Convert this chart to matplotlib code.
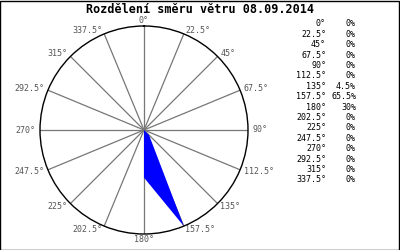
import numpy as np
import matplotlib.pyplot as plt

angles = [0, 22.5, 45, 67.5, 90, 112.5, 135, 157.5, 180,
          202.5, 225, 247.5, 270, 292.5, 315, 337.5]
angle_labels = ['0°', '22.5°', '45°', '67.5°', '90°', '112.5°', '135°', '157.5°', '180°',
                '202.5°', '225°', '247.5°', '270°', '292.5°', '315°', '337.5°']
percent = [0, 0, 0, 0, 0, 0, 4.5, 65.5, 30, 0, 0, 0, 0, 0, 0, 0]
percent_labels = ['0%', '0%', '0%', '0%', '0%', '0%', '4.5%', '65.5%', '30%',
                  '0%', '0%', '0%', '0%', '0%', '0%', '0%']
title = 'Rozdělení směru větru 08.09.2014'

mono = ['DejaVu Sans Mono']

fig = plt.figure(figsize=(4, 2.5), dpi=100)
fig.patch.set_facecolor('white')
# outer border
fig.add_artist(plt.Rectangle((0.001, 0.002), 0.997, 0.994, transform=fig.transFigure,
                             fill=False, edgecolor='black', linewidth=1))

fig.text(0.5, 0.962, title, ha='center', va='center', fontsize=8.5,
         fontweight='bold', family=mono)

ax = fig.add_axes([0.1, 0.064, 0.52, 0.832], projection='polar')
ax.set_theta_zero_location('N')
ax.set_theta_direction(-1)
rmax = max(percent)
ax.set_ylim(0, rmax)
ax.grid(False)
ax.set_xticks([])
ax.set_yticks([])
ax.spines['polar'].set_linewidth(1)
ax.spines['polar'].set_color('black')

theta = np.deg2rad(angles)
for t in theta:
    ax.plot([t, t], [0, rmax], color='#777777', linewidth=0.9, zorder=1)

tt = np.append(theta, theta[0])
rr = np.append(percent, percent[0])
ax.fill(tt, rr, color='#0000ff', linewidth=0, zorder=2)

for a, lab in zip(angles, angle_labels):
    s = np.sin(np.deg2rad(a))
    off = 1.04
    if abs(s) < 0.01:
        ha = 'center'
        off = 1.055
    elif s > 0:
        ha = 'left'
    else:
        ha = 'right'
    ax.text(np.deg2rad(a), rmax * off, lab, ha=ha, va='center', fontsize=6,
            color='#555555', family=mono, clip_on=False)

y0 = 250 - 24
for i, (lab, p) in enumerate(zip(angle_labels, percent_labels)):
    y = (y0 - i * 10.4) / 250
    fig.text(326 / 400, y, lab, ha='right', va='center', fontsize=6, family=mono)
    fig.text(356 / 400, y, p, ha='right', va='center', fontsize=6, family=mono)

fig.savefig('out.png', dpi=100)
